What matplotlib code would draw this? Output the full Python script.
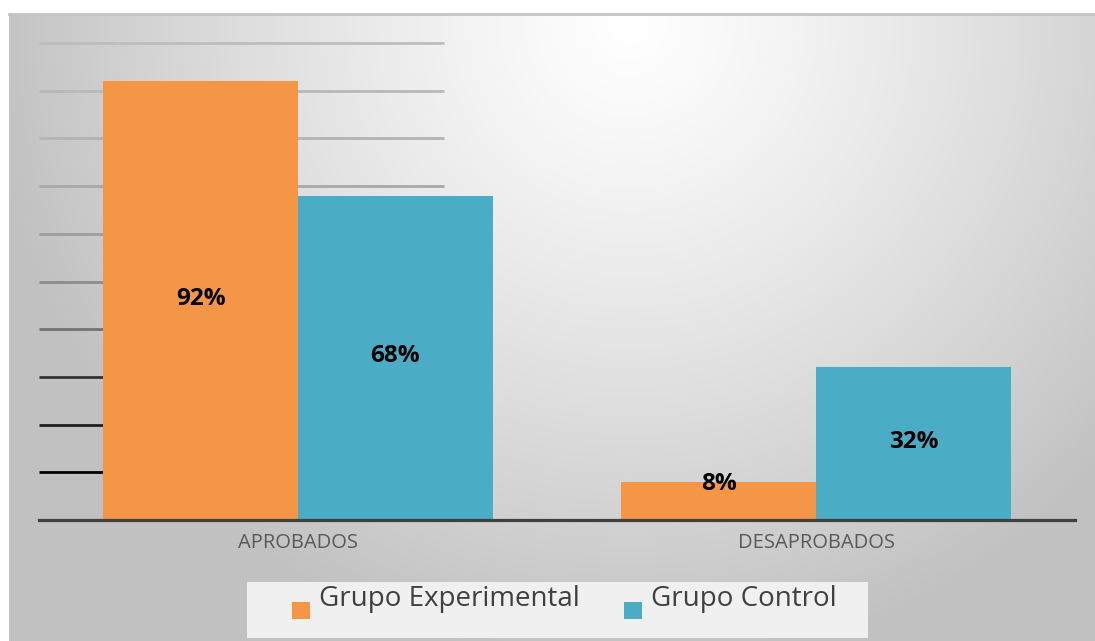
import matplotlib.pyplot as plt
import numpy as np
from matplotlib.patches import Rectangle
from matplotlib.lines import Line2D

# datos
categorias = ['APROBADOS', 'DESAPROBADOS']
grupo_experimental = [92, 8]
grupo_control = [68, 32]
series = ['Grupo Experimental', 'Grupo Control']
colores = ['#f59646', '#4aacc5']

plt.rcParams['font.family'] = ['Open Sans', 'DejaVu Sans']

W, H = 1095, 641
fig = plt.figure(figsize=(W / 100, H / 100), dpi=100)
fig.patch.set_facecolor('white')

# fondo con degradado radial
bg = fig.add_axes([9 / W, 0, (W - 9) / W, (H - 14) / H], zorder=0)
yy, xx = np.mgrid[0:H - 14, 0:W - 9]
d = np.sqrt(((xx - 620) / 640.0) ** 2 + ((yy - 10) / 640.0) ** 2)
val = 1.0 - 0.24 * np.clip(d, 0, 1) ** 1.2
bg.imshow(np.dstack([val, val, val]), aspect='auto', interpolation='bilinear')
bg.set_axis_off()
fig.add_artist(Line2D([9 / W, 1], [(H - 14) / H, (H - 14) / H], color='#c4c4c4', lw=2))
fig.add_artist(Line2D([9.5 / W, 9.5 / W], [0, (H - 14) / H], color='#c4c4c4', lw=2))

ax = fig.add_axes([39 / W, 121 / H, 1036 / W, 477 / H], zorder=1)
ax.patch.set_alpha(0)

x = np.arange(len(categorias))
ancho = 0.376

# lineas de division (solo en la parte izquierda, como en la imagen)
niveles = np.arange(10, 101, 10)
grises = [0.0, 0.12, 0.2, 0.45, 0.55, 0.62, 0.66, 0.7, 0.72, 0.74]
for nivel, g in zip(niveles, grises):
    ax.hlines(nivel, -0.5, 0.282, color=(g, g, g), lw=2.0, zorder=1, clip_on=False)

b1 = ax.bar(x - ancho / 2, grupo_experimental, ancho, color=colores[0], zorder=2)
b2 = ax.bar(x + ancho / 2, grupo_control, ancho, color=colores[1], zorder=2)

for barras, valores in [(b1, grupo_experimental), (b2, grupo_control)]:
    for b, v in zip(barras, valores):
        y = v / 2 + 0.4 if v / 2 >= 5 else v - 0.4
        ax.text(b.get_x() + b.get_width() / 2, y, f'{v}%', ha='center', va='center',
                fontsize=17.5, fontweight='bold', color='black', zorder=3)

ax.axhline(0, color='#404040', lw=2.3, zorder=4, clip_on=False)
ax.set_xlim(-0.5, 1.5)
ax.set_ylim(0, 100)
ax.set_yticks([])
ax.set_xticks(x)
ax.set_xticklabels(categorias, fontsize=14.5, color='#595959')
ax.tick_params(axis='x', length=0, pad=9)
for s in ax.spines.values():
    s.set_visible(False)

# leyenda
fig.patches.append(Rectangle((247 / W, 3 / H), 621 / W, 56 / H, transform=fig.transFigure,
                             facecolor='#f0f0f0', edgecolor='none', zorder=2))
for nombre, color, x0 in zip(series, colores, [292, 624]):
    fig.patches.append(Rectangle((x0 / W, (H - 619) / H), 18 / W, 17 / H,
                                 transform=fig.transFigure, facecolor=color,
                                 edgecolor='none', zorder=3))
    fig.text((x0 + 27) / W, (H - 599) / H, nombre, ha='left', va='center',
             fontsize=20, color='#404040', zorder=3)

fig.savefig('out.png', dpi=100)
